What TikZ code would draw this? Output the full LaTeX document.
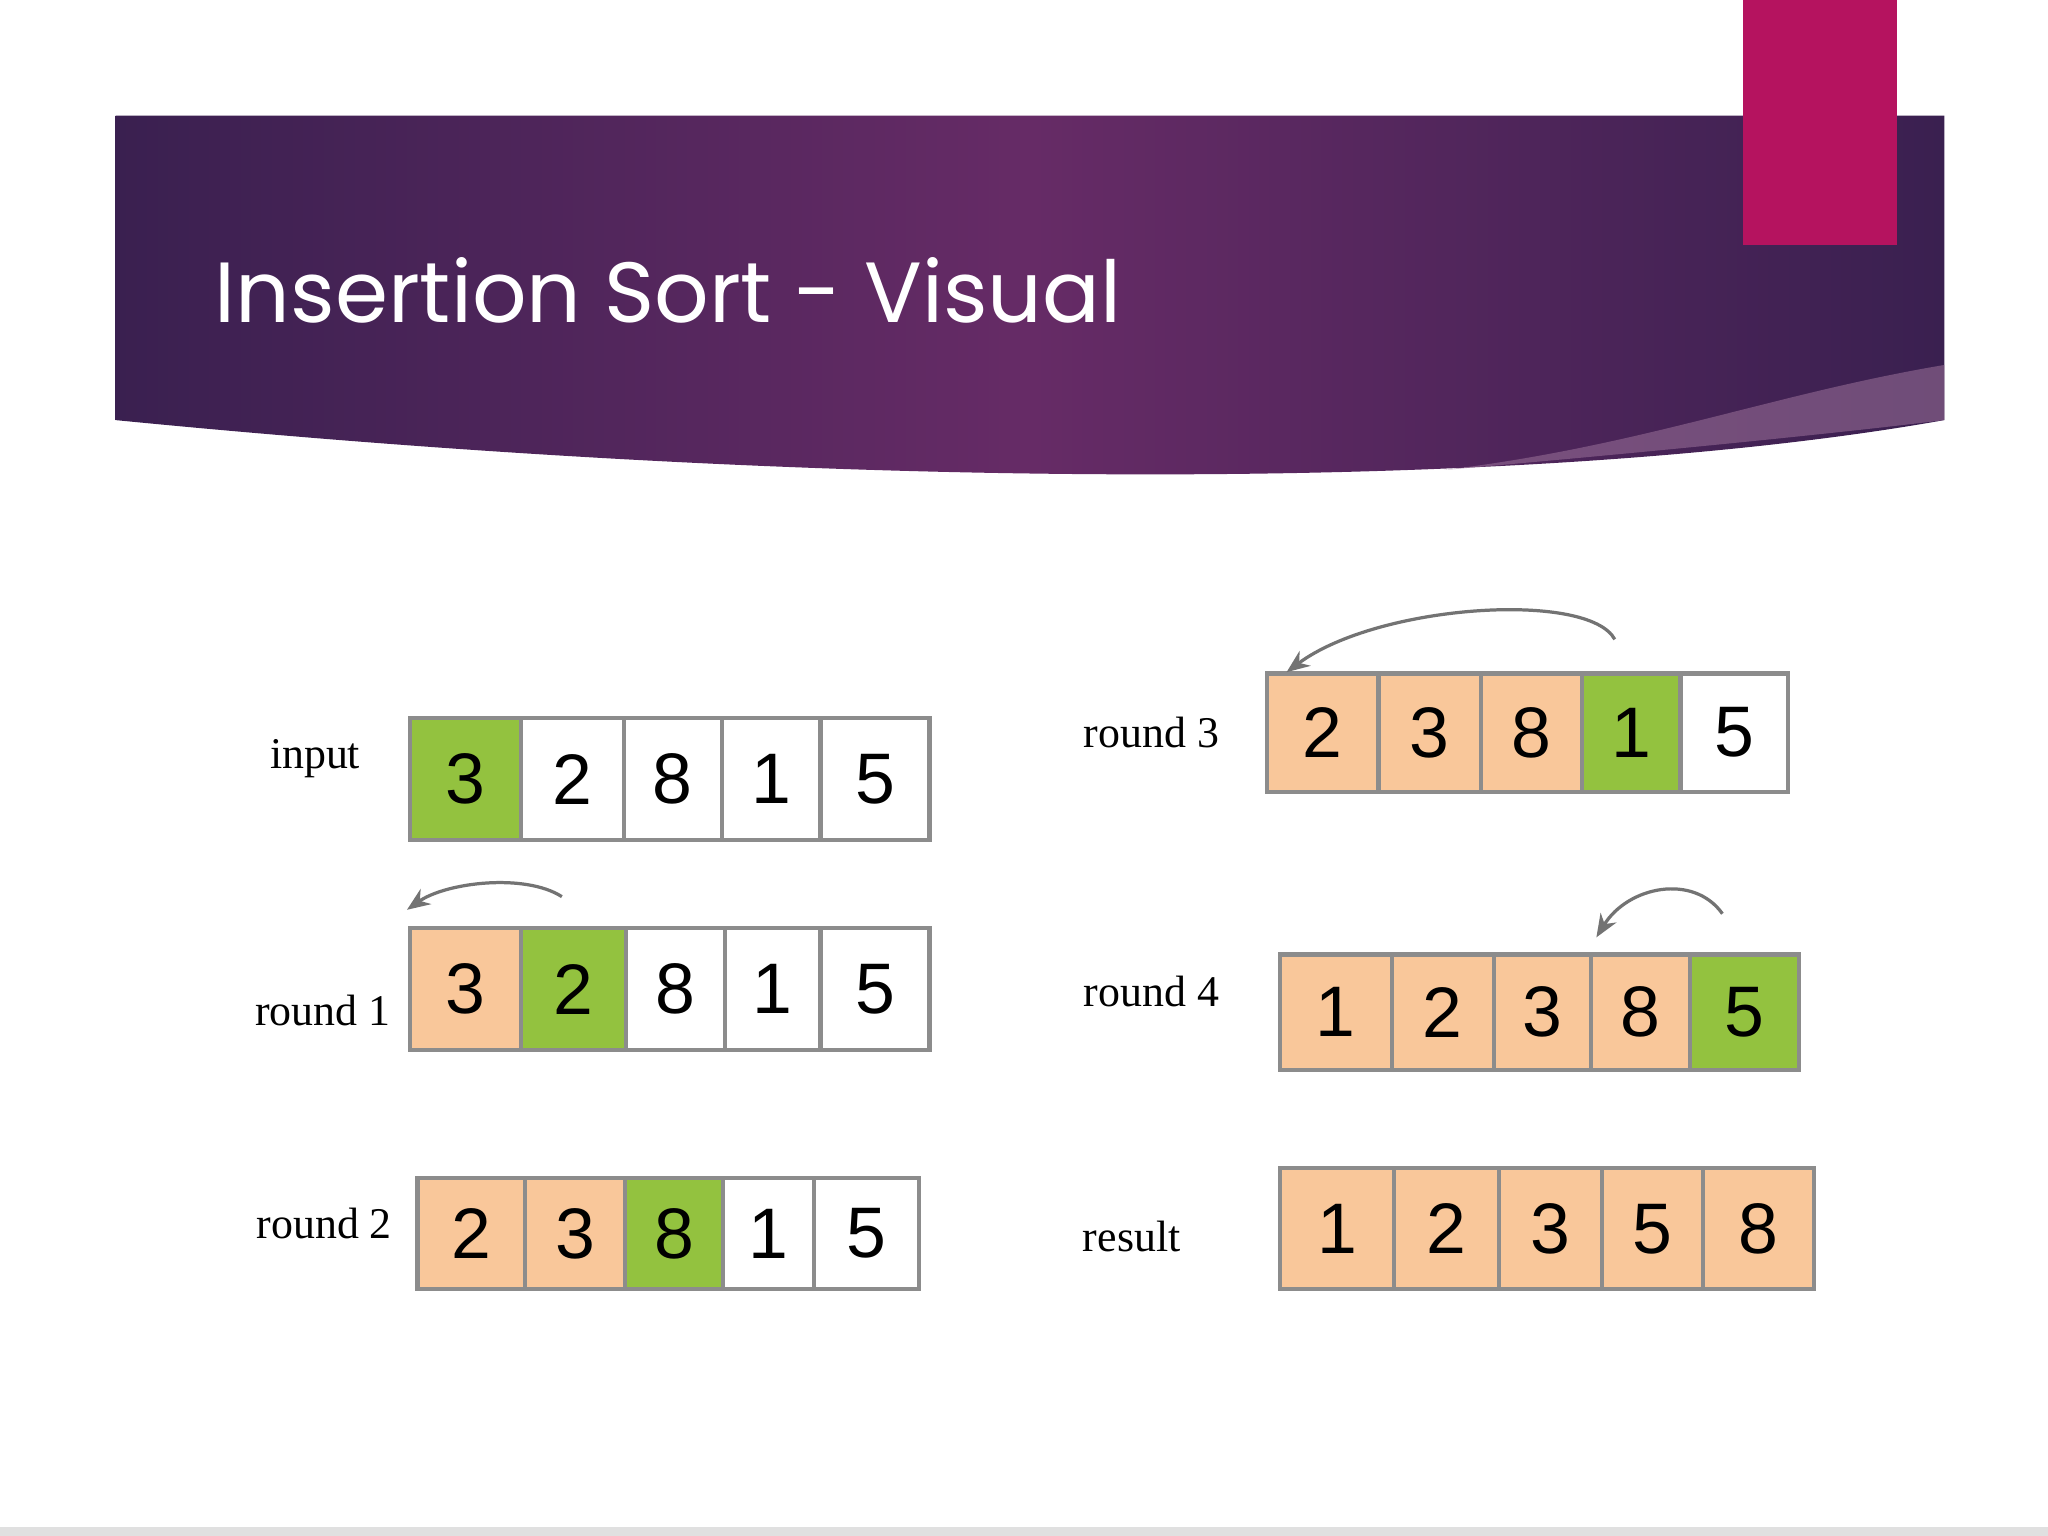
\documentclass[tikz,border=0pt]{standalone}
\usepackage{fontspec}
\setmainfont{Liberation Serif}
\newfontfamily\titlefont{Poppins}
\newfontfamily\digitfont{Liberation Sans}
\usetikzlibrary{arrows.meta}
\definecolor{gr}{HTML}{93C23F}
\definecolor{orr}{HTML}{F9C79A}
\definecolor{wh}{HTML}{FFFFFF}
\definecolor{pdark}{HTML}{3A2050}
\definecolor{pmid}{HTML}{662B66}
\definecolor{pink}{HTML}{B5135F}
\tikzset{
 cellbox/.style={draw=black!45,line width=0.9pt,inner sep=0pt,font=\digitfont\fontsize{15.5}{16}\selectfont},
 rowlabel/.style={font=\fontsize{9.5}{10}\selectfont,inner sep=0pt},
 movearc/.style={draw=black!55,line width=0.7pt,-{Stealth[length=5pt,width=4pt]}}
}
\newcommand{\cellrow}[4]{% name, top, bottom, list x0/x1/color/digit
 \foreach \a/\b/\c/\d [count=\i] in {#4}{
  \pgfmathsetmacro{\w}{(\b-\a)*0.01}
  \pgfmathsetmacro{\h}{(#3-#2)*0.01}
  \node[cellbox,fill=\c,minimum width=\w cm,minimum height=\h cm] (#1c\i) at ({(\a+\b)/2},{(#2+#3)/2}) {\d};
 }}
\begin{document}
\begin{tikzpicture}[x=0.01cm,y=-0.01cm]
\useasboundingbox (0,0) rectangle (1560,1170);
\fill[white] (0,0) rectangle (1560,1170);
\fill[black!12] (0,1163) rectangle (1560,1170);
% banner
\shade[left color=pdark,right color=pdark,middle color=pmid]
 (88,88) -- (1481,88) -- (1481,320) .. controls (1200,370) and (700,380) .. (88,320) -- cycle;
\fill[white!30!pmid,opacity=0.6] (1481,278) .. controls (1350,300) and (1250,340) .. (1100,358) .. controls (1250,345) and (1400,330) .. (1481,320) -- cycle;
\fill[pink] (1328,0) rectangle (1445,187);
\node[anchor=base west,text=white,font=\titlefont\fontsize{18.5}{19}\selectfont,inner sep=0pt] (title) at (163,246) {Insertion Sort - Visual};
% rows
\cellrow{in}{547}{640}{312/397/gr/3,397/475/wh/2,475/550/wh/8,550/625/wh/1,625/708/wh/5}
\cellrow{ra}{707}{800}{312/397/orr/3,397/477/gr/2,477/552/wh/8,552/625/wh/1,625/708/wh/5}
\cellrow{rb}{897}{982}{318/400/orr/2,400/476/orr/3,476/551/gr/8,551/620/wh/1,620/700/wh/5}
\cellrow{rc}{513}{603}{965/1050/orr/2,1050/1128/orr/3,1128/1205/orr/8,1205/1280/gr/1,1280/1362/wh/5}
\cellrow{rd}{727}{815}{975/1060/orr/1,1060/1138/orr/2,1138/1212/orr/3,1212/1287/orr/8,1287/1370/gr/5}
\cellrow{re}{890}{982}{975/1062/orr/1,1062/1142/orr/2,1142/1220/orr/3,1220/1297/orr/5,1297/1382/orr/8}
% labels
\node[rowlabel] (lin) at (240,578) {input};
\node[rowlabel] (lra) at (246,770) {round 1};
\node[rowlabel] (lrb) at (247,932) {round 2};
\node[rowlabel] (lrc) at (877,558) {round 3};
\node[rowlabel] (lrd) at (877,755) {round 4};
\node[rowlabel] (lre) at (862,942) {result};
% arcs
\coordinate (a1s) at (428,683); \coordinate (a1e) at (310,693);
\draw[movearc] (a1s) .. controls (400,665) and (340,672) .. (a1e);
\coordinate (a3s) at (1230,487); \coordinate (a3e) at (980,512);
\draw[movearc] (a3s) .. controls (1210,450) and (1050,460) .. (a3e);
\coordinate (a4s) at (1312,696); \coordinate (a4e) at (1216,714);
\draw[movearc] (a4s) .. controls (1290,665) and (1240,675) .. (a4e);
\end{tikzpicture}
\end{document}
